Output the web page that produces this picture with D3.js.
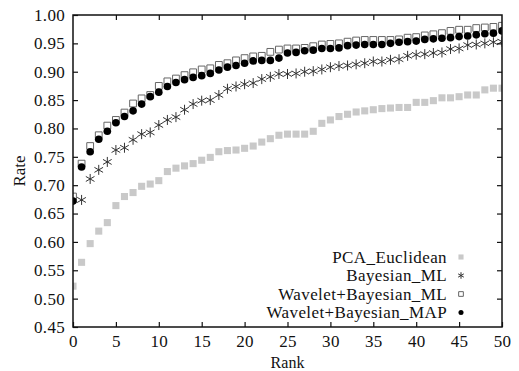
<!DOCTYPE html>
<html>
<head>
<meta charset="utf-8">
<script src="https://cdn.jsdelivr.net/npm/d3@7"></script>
<style>
    body { margin: 0; background: #fff; }
    svg text { font-family: "Times New Roman", "Liberation Serif", Times, "DejaVu Serif", serif !important; fill: #111; }
</style>
</head>
<body>
<div id="chart"></div>
<script>
// rank 0..50
const ranks = d3.range(0, 51);

const pcaEuclidean = [0.522, 0.564, 0.597, 0.619, 0.634, 0.664, 0.680, 0.687, 0.698, 0.702, 0.708,
    0.724, 0.730, 0.734, 0.738, 0.744, 0.749, 0.759, 0.761, 0.762, 0.765,
    0.769, 0.776, 0.782, 0.788, 0.790, 0.790, 0.790, 0.795, 0.809, 0.815,
    0.821, 0.825, 0.829, 0.831, 0.833, 0.835, 0.836, 0.837, 0.837, 0.846,
    0.846, 0.849, 0.854, 0.854, 0.856, 0.859, 0.859, 0.868, 0.871, 0.871];

const bayesianML = [0.674, 0.674, 0.711, 0.727, 0.741, 0.762, 0.766, 0.780, 0.790, 0.793, 0.806,
    0.815, 0.820, 0.833, 0.843, 0.849, 0.850, 0.859, 0.870, 0.874, 0.878,
    0.880, 0.887, 0.891, 0.896, 0.896, 0.897, 0.900, 0.901, 0.904, 0.908,
    0.910, 0.911, 0.913, 0.915, 0.918, 0.918, 0.921, 0.922, 0.928, 0.930,
    0.931, 0.933, 0.934, 0.940, 0.941, 0.947, 0.948, 0.950, 0.952, 0.953];

const waveletML = [0.680, 0.738, 0.769, 0.788, 0.805, 0.815, 0.828, 0.844, 0.853, 0.859, 0.875,
    0.883, 0.888, 0.894, 0.899, 0.904, 0.906, 0.912, 0.915, 0.920, 0.924,
    0.927, 0.928, 0.935, 0.939, 0.941, 0.941, 0.942, 0.945, 0.948, 0.949,
    0.950, 0.953, 0.955, 0.956, 0.956, 0.956, 0.956, 0.957, 0.960, 0.961,
    0.964, 0.966, 0.968, 0.972, 0.974, 0.974, 0.977, 0.978, 0.979, 0.981];

const waveletMAP = [0.672, 0.732, 0.759, 0.781, 0.795, 0.810, 0.821, 0.831, 0.843, 0.856, 0.864,
    0.874, 0.881, 0.886, 0.890, 0.893, 0.897, 0.903, 0.908, 0.911, 0.915,
    0.919, 0.920, 0.920, 0.924, 0.933, 0.934, 0.937, 0.938, 0.941, 0.941,
    0.942, 0.946, 0.947, 0.948, 0.948, 0.948, 0.950, 0.952, 0.953, 0.954,
    0.957, 0.958, 0.959, 0.960, 0.962, 0.963, 0.965, 0.967, 0.968, 0.972];

const seriesNames = ["PCA_Euclidean", "Bayesian_ML", "Wavelet+Bayesian_ML", "Wavelet+Bayesian_MAP"];
const xTicks = d3.range(0, 51, 5);
const yTicks = d3.range(0.45, 1.001, 0.05);

const w = 519, h = 371;
const margin = { top: 15, right: 17, bottom: 44, left: 73 };

const svg = d3.select("#chart").append("svg")
    .attr("width", w)
    .attr("height", h);

const xScale = d3.scaleLinear().domain([0, 50]).range([margin.left, w - margin.right]);
const yScale = d3.scaleLinear().domain([0.45, 1.0]).range([h - margin.bottom, margin.top]);

svg.append("clipPath").attr("id", "plot")
    .append("rect")
    .attr("x", margin.left).attr("y", margin.top)
    .attr("width", w - margin.left - margin.right)
    .attr("height", h - margin.top - margin.bottom);

// marker styles, one per series
const markers = [
    { values: pcaEuclidean, type: d3.symbolSquare, size: 50, legendSize: 26, fill: "#c9c9c9", stroke: "none", sw: 0 },
    { values: bayesianML, type: d3.symbolAsterisk, size: 70, legendSize: 30, fill: "none", stroke: "#333", sw: 1 },
    { values: waveletML, type: d3.symbolSquare, size: 46, legendSize: 22, fill: "#fff", stroke: "#666", sw: 1 },
    { values: waveletMAP, type: d3.symbolCircle, size: 46, legendSize: 20, fill: "#000", stroke: "none", sw: 0 }
];

const plot = svg.append("g").attr("clip-path", "url(#plot)");

markers.forEach((m) => {
    plot.append("g")
        .selectAll("path")
        .data(ranks)
        .join("path")
        .attr("transform", (r) => "translate(" + xScale(r) + "," + yScale(m.values[r]) + ")")
        .attr("d", d3.symbol(m.type, m.size)())
        .attr("fill", m.fill)
        .attr("stroke", m.stroke)
        .attr("stroke-width", m.sw);
});

// axes with inward ticks on all four sides
const fmt = d3.format(".2f");
svg.append("g")
    .attr("transform", "translate(0," + (h - margin.bottom) + ")")
    .call(d3.axisBottom(xScale).tickValues(xTicks).tickSize(-5).tickPadding(8))
    .call((g) => g.select(".domain").remove());
svg.append("g")
    .attr("transform", "translate(0," + margin.top + ")")
    .call(d3.axisTop(xScale).tickValues(xTicks.slice(1, -1)).tickSize(-5).tickFormat(""))
    .call((g) => g.select(".domain").remove());
svg.append("g")
    .attr("transform", "translate(" + margin.left + ",0)")
    .call(d3.axisLeft(yScale).tickValues(yTicks).tickSize(-5).tickPadding(8).tickFormat(fmt))
    .call((g) => g.select(".domain").remove());
svg.append("g")
    .attr("transform", "translate(" + (w - margin.right) + ",0)")
    .call(d3.axisRight(yScale).tickValues(yTicks.slice(1, -1)).tickSize(-5).tickFormat(""))
    .call((g) => g.select(".domain").remove());

svg.selectAll(".tick text")
    .style("font-size", "17px")
    .attr("letter-spacing", "0.3");
svg.selectAll(".tick line").attr("stroke", "#111").attr("stroke-width", 1.2);

svg.append("rect")
    .attr("x", margin.left).attr("y", margin.top)
    .attr("width", w - margin.left - margin.right)
    .attr("height", h - margin.top - margin.bottom)
    .attr("fill", "none")
    .attr("stroke", "#111")
    .attr("stroke-width", 1.5);

svg.append("text")
    .attr("x", (margin.left + w - margin.right) / 2)
    .attr("y", h - 3)
    .attr("text-anchor", "middle")
    .style("font-size", "16px")
    .text("Rank");

svg.append("text")
    .attr("transform", "translate(25," + ((margin.top + h - margin.bottom) / 2) + ") rotate(-90)")
    .attr("text-anchor", "middle")
    .style("font-size", "17px")
    .text("Rate");

// legend, bottom right inside the frame
const legend = svg.append("g");
seriesNames.forEach((name, i) => {
    const ly = 257 + i * 18.5;
    legend.append("text")
        .attr("x", 447)
        .attr("y", ly)
        .attr("dy", "0.35em")
        .attr("text-anchor", "end")
        .attr("letter-spacing", "0.4")
        .style("font-size", "17px")
        .text(name);
    legend.append("path")
        .attr("transform", "translate(461," + ly + ")")
        .attr("d", d3.symbol(markers[i].type, markers[i].legendSize)())
        .attr("fill", markers[i].fill)
        .attr("stroke", markers[i].stroke)
        .attr("stroke-width", markers[i].sw);
});
</script>
</body>
</html>
